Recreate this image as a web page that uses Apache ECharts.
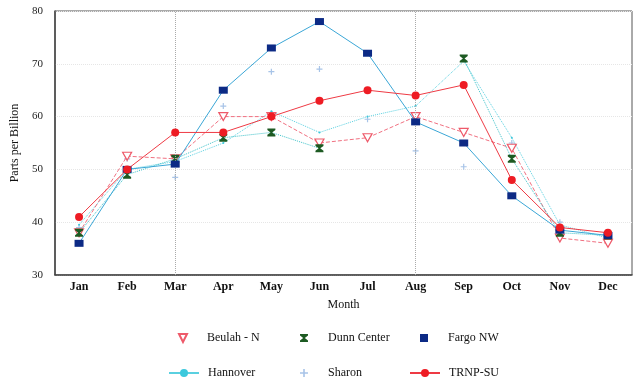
<!DOCTYPE html>
<html><head><meta charset="utf-8">
<script src="https://cdn.jsdelivr.net/npm/echarts@6/dist/echarts.min.js"></script>
<style>html,body{margin:0;padding:0;background:#fff}#c{width:633px;height:380px}</style>
</head><body><div id="c"></div>
<script>
const months = ['Jan','Feb','Mar','Apr','May','Jun','Jul','Aug','Sep','Oct','Nov','Dec'];
const beulah   = [38, 52.5, 52, 60, 60, 55, 56, 60, 57, 54, 37, 36];
const dunn     = [38, 49, 52, 56, 57, 54, null, null, 71, 52, 38, 37.5];
const fargo    = [36, 50, 51, 65, 73, 78, 72, 59, 55, 45, 38.5, 37.5];
const hannover = [39.5, 50, 51.5, 55, 61, 57, 60, 62, 70.5, 56, 39.5, 37];
const sharon   = [39, 52, 48.5, 62, 68.5, 69, 59.5, 53.5, 50.5, 55, 40, 37.5];
const trnp     = [41, 50, 57, 57, 60, 63, 65, 64, 66, 48, 39, 38];
const yTicks = {min: 30, max: 80, interval: 10};

const serif = 'Liberation Serif';
const chart = echarts.init(document.getElementById('c'));
const hourglass = 'path://M0,0 L10,0 L10,2 L6,5 L10,8 L10,10 L0,10 L0,8 L4,5 L0,2 Z';
const triDown = 'path://M0,0 L10,0 L5,9 Z';
function leg(name, left, top, lineStyle){
  const item = {name:name};
  if (lineStyle) item.lineStyle = lineStyle;
  return {data:[item], left:left, top:top, padding:0, itemWidth:30, itemHeight:10, itemGap:0,
    textStyle:{fontFamily:serif, fontSize:12, color:'#111', padding:[0,0,0,4]}, selectedMode:false};
}
const hidden = {opacity:0, width:0};
chart.setOption({
  animation:false,
  grid:{left:55, right:1, top:11, bottom:105, show:true, borderColor:'#555', borderWidth:1},
  legend:[leg('Beulah - N',168,332,hidden), leg('Dunn Center',289,332,hidden), leg('Fargo NW',409,332,hidden),
          leg('Hannover',168,367,{type:'solid'}), leg('Sharon',289,367,null), leg('TRNP-SU',409,367,null)],
  xAxis:{type:'category', data:months, boundaryGap:true,
    name:'Month', nameLocation:'middle', nameGap:24,
    nameTextStyle:{fontFamily:serif, fontSize:12, color:'#111'},
    axisLine:{lineStyle:{color:'#444', width:1.5}}, axisTick:{show:false},
    axisLabel:{fontFamily:serif, fontSize:12, color:'#111', margin:6, fontWeight:'bold'},
    splitLine:{show:false}},
  yAxis:{type:'value', min:yTicks.min, max:yTicks.max, interval:yTicks.interval,
    name:'Parts per Billion', nameLocation:'middle', nameGap:27,
    nameTextStyle:{fontFamily:serif, fontSize:12, color:'#111'},
    axisLine:{show:true, lineStyle:{color:'#444', width:1.5}}, axisTick:{show:false},
    axisLabel:{fontFamily:serif, fontSize:11, color:'#222', margin:12},
    splitLine:{show:true, lineStyle:{color:'#e6e6e6', type:'dotted'}}},
  series:[
    {name:'Beulah - N', type:'line', data:beulah, symbol:triDown, symbolSize:[9,8],
      itemStyle:{color:'#fff', borderColor:'#ee5a6a', borderWidth:1.2},
      lineStyle:{color:'#f07080', width:1, type:'dashed'}, z:3,
      markLine:{silent:true, symbol:'none', label:{show:false},
        lineStyle:{color:'#aaa', type:'dotted', width:1},
        data:[{xAxis:'Mar'},{xAxis:'Aug'}]}},
    {name:'Dunn Center', type:'line', data:dunn, symbol:hourglass, symbolSize:[8,8],
      itemStyle:{color:'#1d5a22'}, lineStyle:{color:'#3cc0c8', width:1, type:'dotted'}, z:4},
    {name:'Fargo NW', type:'line', data:fargo, symbol:'rect', symbolSize:[9,7],
      itemStyle:{color:'#0c2a85'}, lineStyle:{color:'#3aa6d6', width:1}, z:5},
    {name:'Hannover', type:'line', data:hannover, symbol:'circle', symbolSize:2,
      itemStyle:{color:'#3cc8dc'}, lineStyle:{color:'#5ad0e0', width:1, type:'dotted'}, z:2},
    {name:'Sharon', type:'line', data:sharon, symbol:'path://M4,0 L6,0 L6,4 L10,4 L10,6 L6,6 L6,10 L4,10 L4,6 L0,6 L0,4 L4,4 Z', symbolSize:6,
      itemStyle:{color:'#a8c4e8'}, lineStyle:{width:0, opacity:0}, z:1},
    {name:'TRNP-SU', type:'line', data:trnp, symbol:'circle', symbolSize:8,
      itemStyle:{color:'#ee1c24'}, lineStyle:{color:'#ee3a44', width:1}, z:6}
  ]
});
</script></body></html>
